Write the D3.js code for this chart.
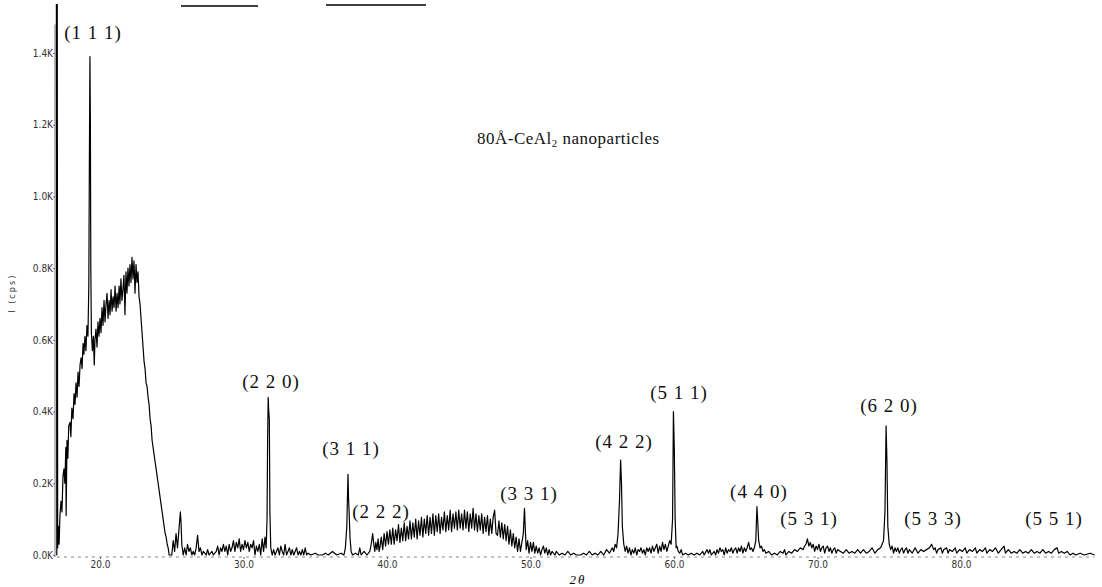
<!DOCTYPE html>
<html>
<head>
<meta charset="utf-8">
<script src="https://cdn.jsdelivr.net/npm/d3@7"></script>
<style>
  body { margin: 0; background: #fff; }
  svg { display: block; }
  .tick text { font-family: "DejaVu Sans Condensed", "DejaVu Sans", sans-serif; font-size: 10px; fill: #333; }
  .hkl { font-family: "Liberation Serif", "Times New Roman", serif; font-size: 19px; letter-spacing: 1px; fill: #111; }
</style>
</head>
<body>
<div class="container"></div>
<script>
const width = 1102;
const height = 587;

// 2theta (deg), intensity (K cps)
const directBeam = [
  [16.96, 1.6], [16.99, 0.0], [17.02, 1.6], [17.05, 0.02], [17.1, 0.08], [17.15, 0.03]
];

const lowAngleHump = [
  [17.21, 0.11], [17.28, 0.15], [17.35, 0.12], [17.42, 0.22], [17.49, 0.24], [17.55, 0.20],
  [17.62, 0.30], [17.64, 0.11], [17.70, 0.32], [17.76, 0.27], [17.82, 0.36], [17.91, 0.37],
  [17.97, 0.33], [18.04, 0.41], [18.12, 0.38], [18.19, 0.45], [18.26, 0.42], [18.33, 0.48],
  [18.40, 0.44], [18.47, 0.51], [18.54, 0.47], [18.61, 0.53], [18.68, 0.55], [18.75, 0.52],
  [18.82, 0.59], [18.88, 0.56], [18.95, 0.61], [19.02, 0.57], [19.09, 0.64], [19.16, 0.61],
  [19.22, 0.75], [19.26, 1.10], [19.30, 1.39], [19.33, 1.20], [19.36, 0.80], [19.40, 0.62],
  [19.47, 0.57], [19.54, 0.61], [19.60, 0.53], [19.65, 0.60], [19.72, 0.63], [19.79, 0.58],
  [19.86, 0.65], [19.93, 0.61], [20.00, 0.66], [20.07, 0.62], [20.14, 0.69], [20.21, 0.64],
  [20.28, 0.71], [20.35, 0.65], [20.42, 0.70], [20.49, 0.73], [20.56, 0.66], [20.63, 0.71],
  [20.70, 0.67], [20.77, 0.74], [20.84, 0.68], [20.91, 0.72], [20.98, 0.69], [21.05, 0.75],
  [21.12, 0.68], [21.19, 0.73], [21.26, 0.69], [21.33, 0.75], [21.39, 0.70], [21.46, 0.77],
  [21.53, 0.71], [21.60, 0.74], [21.67, 0.78], [21.74, 0.67], [21.81, 0.79], [21.88, 0.73],
  [21.95, 0.80], [22.02, 0.75], [22.09, 0.81], [22.16, 0.76], [22.23, 0.83], [22.30, 0.77],
  [22.37, 0.82], [22.44, 0.73], [22.51, 0.81], [22.58, 0.76], [22.65, 0.79], [22.72, 0.72],
  [22.79, 0.70], [22.86, 0.66], [22.93, 0.62], [23.00, 0.58], [23.07, 0.54], [23.14, 0.52],
  [23.21, 0.48], [23.28, 0.47], [23.35, 0.44], [23.42, 0.42], [23.49, 0.38], [23.56, 0.36],
  [23.63, 0.32], [23.70, 0.30], [23.77, 0.28], [23.84, 0.26], [23.91, 0.24], [23.98, 0.22],
  [24.05, 0.20], [24.12, 0.18], [24.19, 0.16], [24.26, 0.14], [24.33, 0.12], [24.40, 0.10],
  [24.47, 0.08], [24.54, 0.06], [24.61, 0.05], [24.68, 0.03], [24.75, 0.02], [24.82, 0.00]
];

const midRange = [
  [25.0, 0.00], [25.1, 0.04], [25.2, 0.01], [25.3, 0.06], [25.4, 0.02], [25.5, 0.07],
  [25.6, 0.12], [25.65, 0.09], [25.7, 0.03], [25.8, 0.00], [25.9, 0.02], [26.0, 0.00],
  [26.1, 0.03], [26.2, 0.01], [26.3, 0.02], [26.4, 0.00], [26.5, 0.01], [26.6, 0.00],
  [26.7, 0.02], [26.8, 0.055], [26.9, 0.01], [27.0, 0.02], [27.1, 0.00], [27.2, 0.01],
  [27.4, 0.00], [27.5, 0.015], [27.6, 0.00], [27.8, 0.01], [27.9, 0.00], [28.1, 0.01],
  [28.2, 0.025], [28.3, 0.00], [28.4, 0.02], [28.5, 0.01], [28.6, 0.03], [28.7, 0.01],
  [28.8, 0.025], [28.9, 0.00], [29.0, 0.03], [29.1, 0.01], [29.2, 0.02], [29.3, 0.04],
  [29.4, 0.01], [29.5, 0.035], [29.6, 0.02], [29.7, 0.045], [29.8, 0.01], [29.9, 0.03],
  [30.0, 0.015], [30.1, 0.04], [30.2, 0.02], [30.3, 0.035], [30.4, 0.01], [30.5, 0.03],
  [30.6, 0.02], [30.7, 0.04], [30.8, 0.00], [30.9, 0.025], [31.0, 0.01], [31.1, 0.03],
  [31.2, 0.00], [31.3, 0.045], [31.4, 0.01], [31.5, 0.05], [31.58, 0.02], [31.64, 0.10],
  [31.68, 0.32], [31.72, 0.44], [31.76, 0.40], [31.80, 0.38], [31.84, 0.12], [31.9, 0.02],
  [32.0, 0.00], [32.1, 0.015], [32.2, 0.00], [32.3, 0.01], [32.4, 0.02], [32.5, 0.00],
  [32.6, 0.025], [32.7, 0.01], [32.8, 0.00], [32.9, 0.03], [33.0, 0.00], [33.1, 0.01],
  [33.2, 0.02], [33.3, 0.00], [33.4, 0.015], [33.5, 0.00], [33.6, 0.01], [33.7, 0.02],
  [33.8, 0.00], [33.9, 0.01], [34.0, 0.00], [34.1, 0.015], [34.2, 0.00], [34.3, 0.02],
  [34.4, 0.00], [34.5, 0.005], [34.7, 0.00], [35.0, 0.005], [35.2, 0.00], [35.5, 0.00],
  [35.7, 0.005], [35.9, 0.00], [36.2, 0.01], [36.5, 0.00], [36.8, 0.005], [37.0, 0.00],
  [37.1, 0.02], [37.2, 0.08], [37.28, 0.225], [37.32, 0.16], [37.36, 0.12], [37.42, 0.05],
  [37.5, 0.01], [37.6, 0.00], [37.8, 0.005], [38.0, 0.00], [38.1, 0.02], [38.2, 0.00],
  [38.4, 0.01], [38.6, 0.00], [38.8, 0.01], [38.9, 0.03], [39.0, 0.06], [39.08, 0.03],
  [39.15, 0.01], [39.22, 0.035], [39.3, 0.015], [39.38, 0.045], [39.45, 0.01]
];

const amorphousHump = [
  [39.5, 0.02], [39.6, 0.05], [39.7, 0.015], [39.8, 0.06], [39.9, 0.025], [40.0, 0.065],
  [40.1, 0.03], [40.2, 0.07], [40.3, 0.03], [40.4, 0.075], [40.5, 0.03], [40.6, 0.07],
  [40.7, 0.04], [40.8, 0.085], [40.9, 0.035], [41.0, 0.075], [41.1, 0.04], [41.2, 0.09],
  [41.3, 0.04], [41.4, 0.08], [41.5, 0.045], [41.6, 0.095], [41.7, 0.045], [41.8, 0.09],
  [41.9, 0.05], [42.0, 0.10], [42.1, 0.045], [42.2, 0.095], [42.3, 0.055], [42.4, 0.105],
  [42.5, 0.05], [42.6, 0.10], [42.7, 0.06], [42.8, 0.11], [42.9, 0.055], [43.0, 0.105],
  [43.1, 0.06], [43.2, 0.115], [43.3, 0.055], [43.4, 0.11], [43.5, 0.065], [43.6, 0.115],
  [43.7, 0.06], [43.8, 0.105], [43.9, 0.07], [44.0, 0.12], [44.1, 0.065], [44.2, 0.11],
  [44.3, 0.07], [44.4, 0.125], [44.5, 0.065], [44.6, 0.115], [44.7, 0.075], [44.8, 0.12],
  [44.9, 0.07], [45.0, 0.125], [45.1, 0.075], [45.2, 0.115], [45.3, 0.07], [45.4, 0.125],
  [45.5, 0.075], [45.6, 0.12], [45.7, 0.065], [45.8, 0.115], [45.9, 0.075], [46.0, 0.13],
  [46.1, 0.07], [46.2, 0.115], [46.3, 0.065], [46.4, 0.11], [46.5, 0.07], [46.6, 0.115],
  [46.7, 0.06], [46.8, 0.105], [46.9, 0.065], [47.0, 0.11], [47.1, 0.055], [47.2, 0.10],
  [47.3, 0.06], [47.4, 0.105], [47.5, 0.125], [47.6, 0.06], [47.7, 0.055], [47.8, 0.095],
  [47.9, 0.05], [48.0, 0.09], [48.1, 0.045], [48.2, 0.085], [48.3, 0.04], [48.4, 0.08],
  [48.5, 0.03], [48.6, 0.07], [48.7, 0.025], [48.8, 0.06], [48.9, 0.02], [49.0, 0.05],
  [49.1, 0.01], [49.2, 0.045], [49.3, 0.01], [49.4, 0.035], [49.5, 0.06], [49.58, 0.13],
  [49.64, 0.07], [49.7, 0.015], [49.8, 0.04], [49.9, 0.005], [50.0, 0.035], [50.1, 0.01],
  [50.2, 0.035], [50.3, 0.005]
];

const highRange = [
  [50.4, 0.025], [50.5, 0.005], [50.6, 0.02], [50.7, 0.00], [50.8, 0.015], [50.9, 0.025],
  [51.0, 0.005], [51.1, 0.02], [51.2, 0.00], [51.3, 0.015], [51.4, 0.00], [51.5, 0.01],
  [51.7, 0.00], [51.8, 0.01], [52.0, 0.00], [52.2, 0.005], [52.4, 0.00], [52.6, 0.01],
  [52.8, 0.00], [53.0, 0.005], [53.2, 0.00], [53.5, 0.00], [53.7, 0.005], [53.9, 0.00],
  [54.1, 0.01], [54.3, 0.00], [54.5, 0.005], [54.7, 0.00], [54.9, 0.01], [55.1, 0.00],
  [55.3, 0.015], [55.5, 0.005], [55.7, 0.02], [55.8, 0.01], [55.9, 0.03], [56.0, 0.02],
  [56.1, 0.06], [56.2, 0.15], [56.28, 0.265], [56.34, 0.20], [56.4, 0.08], [56.5, 0.03],
  [56.6, 0.01], [56.7, 0.025], [56.8, 0.005], [56.9, 0.02], [57.0, 0.00], [57.1, 0.015],
  [57.2, 0.005], [57.3, 0.02], [57.4, 0.00], [57.5, 0.015], [57.6, 0.01], [57.7, 0.02],
  [57.8, 0.005], [57.9, 0.015], [58.0, 0.00], [58.1, 0.02], [58.2, 0.01], [58.3, 0.02],
  [58.4, 0.005], [58.5, 0.025], [58.6, 0.01], [58.7, 0.02], [58.8, 0.03], [58.9, 0.005],
  [59.0, 0.025], [59.1, 0.01], [59.2, 0.035], [59.3, 0.015], [59.4, 0.03], [59.5, 0.01],
  [59.6, 0.025], [59.7, 0.04], [59.8, 0.03], [59.9, 0.10], [59.96, 0.40], [60.02, 0.30],
  [60.08, 0.10], [60.15, 0.02], [60.2, 0.025], [60.3, 0.01], [60.4, 0.005], [60.5, 0.015],
  [60.6, 0.00], [60.8, 0.005], [61.0, 0.00], [61.2, 0.005], [61.4, 0.00], [61.6, 0.005],
  [61.8, 0.00], [62.0, 0.01], [62.1, 0.00], [62.3, 0.015], [62.4, 0.005], [62.5, 0.015],
  [62.6, 0.00], [62.8, 0.01], [62.9, 0.00], [63.0, 0.015], [63.1, 0.005], [63.2, 0.02],
  [63.3, 0.01], [63.4, 0.015], [63.5, 0.00], [63.6, 0.02], [63.7, 0.005], [63.8, 0.015],
  [63.9, 0.01], [64.0, 0.02], [64.1, 0.005], [64.2, 0.015], [64.3, 0.02], [64.4, 0.005],
  [64.5, 0.02], [64.6, 0.01], [64.7, 0.025], [64.8, 0.005], [64.9, 0.02], [65.0, 0.01],
  [65.1, 0.02], [65.2, 0.035], [65.3, 0.015], [65.4, 0.02], [65.5, 0.01], [65.6, 0.02],
  [65.7, 0.04], [65.78, 0.135], [65.84, 0.09], [65.9, 0.04], [66.0, 0.02], [66.1, 0.025],
  [66.2, 0.01], [66.3, 0.015], [66.4, 0.005], [66.6, 0.01], [66.8, 0.00], [67.0, 0.005],
  [67.2, 0.00], [67.4, 0.01], [67.6, 0.005], [67.7, 0.015], [67.8, 0.00], [68.0, 0.01],
  [68.2, 0.005], [68.4, 0.015], [68.6, 0.01], [68.8, 0.02], [69.0, 0.015], [69.1, 0.025],
  [69.2, 0.03], [69.3, 0.045], [69.4, 0.025], [69.5, 0.035], [69.6, 0.02], [69.7, 0.03],
  [69.8, 0.01], [69.9, 0.025], [70.0, 0.015], [70.1, 0.03], [70.2, 0.01], [70.3, 0.02],
  [70.4, 0.025], [70.5, 0.005], [70.6, 0.02], [70.7, 0.025], [70.8, 0.01], [70.9, 0.02],
  [71.0, 0.005], [71.1, 0.015], [71.2, 0.02], [71.3, 0.005], [71.4, 0.015], [71.6, 0.01],
  [71.8, 0.005], [72.0, 0.015], [72.2, 0.005], [72.4, 0.01], [72.6, 0.005], [72.8, 0.015],
  [73.0, 0.005], [73.2, 0.015], [73.4, 0.005], [73.6, 0.01], [73.8, 0.02], [74.0, 0.005],
  [74.2, 0.015], [74.4, 0.02], [74.6, 0.04], [74.7, 0.12], [74.78, 0.36], [74.84, 0.26],
  [74.9, 0.08], [75.0, 0.03], [75.1, 0.015], [75.2, 0.025], [75.3, 0.005], [75.4, 0.02],
  [75.5, 0.01], [75.6, 0.02], [75.7, 0.005], [75.8, 0.015], [75.9, 0.02], [76.0, 0.005],
  [76.1, 0.015], [76.2, 0.02], [76.3, 0.005], [76.4, 0.015], [76.6, 0.005], [76.8, 0.02],
  [77.0, 0.005], [77.2, 0.015], [77.4, 0.01], [77.6, 0.015], [77.8, 0.02], [77.95, 0.03],
  [78.1, 0.015], [78.2, 0.02], [78.3, 0.005], [78.4, 0.015], [78.6, 0.02], [78.7, 0.005],
  [78.8, 0.015], [79.0, 0.02], [79.1, 0.005], [79.2, 0.015], [79.4, 0.01], [79.6, 0.02],
  [79.7, 0.005], [79.9, 0.015], [80.1, 0.01], [80.3, 0.02], [80.4, 0.005], [80.6, 0.015],
  [80.8, 0.01], [81.0, 0.02], [81.1, 0.005], [81.3, 0.015], [81.5, 0.01], [81.7, 0.02],
  [81.8, 0.005], [82.0, 0.015], [82.2, 0.01], [82.4, 0.02], [82.6, 0.005], [82.8, 0.015],
  [83.0, 0.025], [83.1, 0.005], [83.3, 0.015], [83.5, 0.005], [83.7, 0.01], [83.9, 0.005],
  [84.1, 0.015], [84.3, 0.005], [84.5, 0.01], [84.7, 0.005], [84.9, 0.015], [85.1, 0.005],
  [85.3, 0.01], [85.5, 0.005], [85.7, 0.015], [85.9, 0.005], [86.1, 0.01], [86.3, 0.005],
  [86.5, 0.015], [86.7, 0.02], [86.8, 0.005], [87.0, 0.01], [87.2, 0.005], [87.4, 0.01],
  [87.6, 0.00], [87.8, 0.005], [88.0, 0.00], [88.3, 0.005], [88.6, 0.00], [89.0, 0.005],
  [89.3, 0.00]
];

// Miller indices with the 2theta / intensity where each label sits
const peakLabels = [
  ['(1 1 1)', 19.51, 1.439], ['(2 2 0)', 31.92, 0.466], ['(3 1 1)', 37.49, 0.279],
  ['(2 2 2)', 39.58, 0.103], ['(3 3 1)', 49.90, 0.153], ['(4 2 2)', 56.52, 0.298],
  ['(5 1 1)', 60.35, 0.435], ['(4 4 0)', 65.92, 0.159], ['(5 3 1)', 69.41, 0.084],
  ['(6 2 0)', 74.98, 0.399], ['(5 3 3)', 78.05, 0.084], ['(5 5 1)', 86.48, 0.084]
];

const xTicks = [20, 30, 40, 50, 60, 70, 80];
const yTicks = [0, 0.2, 0.4, 0.6, 0.8, 1.0, 1.2, 1.4];
const scanRange = [17, 89.3];
const axisTop = 1.48;

const spectrum = directBeam.concat(lowAngleHump, midRange, amorphousHump, highRange);

const x = d3.scaleLinear().domain([20, 80]).range([100, 961]);
const y = d3.scaleLinear().domain([0, 1.4]).range([555, 53]);

const svg = d3.select('.container')
    .append('svg')
    .attr('width', width)
    .attr('height', height);

svg.append('clipPath').attr('id', 'clip')
    .append('rect').attr('x', 0).attr('y', 4).attr('width', width).attr('height', height - 4);

// scan artefacts along the top edge
svg.append('line').attr('x1', 181).attr('x2', 258).attr('y1', 6).attr('y2', 6)
    .attr('stroke', '#000').attr('stroke-width', 1.6);
svg.append('line').attr('x1', 326).attr('x2', 426).attr('y1', 5).attr('y2', 5)
    .attr('stroke', '#000').attr('stroke-width', 1.6);

// x baseline (dotted)
svg.append('line')
    .attr('x1', x(scanRange[0])).attr('x2', x(scanRange[1]))
    .attr('y1', y(0) + 2).attr('y2', y(0) + 2)
    .attr('stroke', '#888').attr('stroke-width', 1)
    .attr('stroke-dasharray', '3,4');

const xAxis = svg.append('g')
    .attr('transform', `translate(0,${y(0) + 2})`)
    .call(d3.axisBottom(x).tickValues(xTicks).tickSize(2).tickPadding(2)
        .tickFormat(d => d.toFixed(1)));
xAxis.select('.domain').remove();
xAxis.selectAll('.tick line').attr('stroke', '#666');

const yAxis = svg.append('g')
    .attr('transform', 'translate(55,0)')
    .call(d3.axisLeft(y).tickValues(yTicks).tickSize(2).tickPadding(0)
        .tickFormat(d => d.toFixed(1) + 'K'));
yAxis.select('.domain').remove();
yAxis.selectAll('.tick line').attr('stroke', '#666');
yAxis.append('line')
    .attr('y1', y(0) + 2).attr('y2', y(axisTop))
    .attr('stroke', '#777').attr('stroke-width', 1);

svg.append('text')
    .attr('transform', `translate(15,${y(0.73)}) rotate(-90)`)
    .attr('text-anchor', 'middle')
    .style('font-family', '"DejaVu Sans Condensed", sans-serif')
    .style('font-size', '9px')
    .style('letter-spacing', '2px')
    .style('fill', '#333')
    .text('I (cps)');

svg.append('text')
    .attr('x', x(53.3)).attr('y', 584)
    .attr('text-anchor', 'middle')
    .style('font-family', '"Liberation Serif", serif')
    .style('font-style', 'italic')
    .style('font-size', '13px')
    .style('letter-spacing', '2px')
    .text('2θ');

const line = d3.line()
    .x(d => x(d[0]))
    .y(d => y(d[1]));

svg.append('path')
    .datum(spectrum)
    .attr('clip-path', 'url(#clip)')
    .attr('fill', 'none')
    .attr('stroke', '#000')
    .attr('stroke-width', 1.2)
    .attr('stroke-linejoin', 'round')
    .attr('d', line);

svg.selectAll('text.hkl')
    .data(peakLabels)
    .enter()
    .append('text')
    .attr('class', 'hkl')
    .attr('x', d => x(d[1]))
    .attr('y', d => y(d[2]))
    .attr('text-anchor', 'middle')
    .text(d => d[0]);

const title = svg.append('text')
    .attr('x', x(46.27)).attr('y', y(1.146))
    .style('font-family', '"Liberation Serif", serif')
    .style('font-size', '17px')
    .style('letter-spacing', '0.5px')
    .style('fill', '#111');
title.append('tspan').text('80Å-CeAl');
title.append('tspan').attr('dy', 3).style('font-size', '11px').text('2');
title.append('tspan').attr('dy', -3).text(' nanoparticles');
</script>
</body>
</html>
